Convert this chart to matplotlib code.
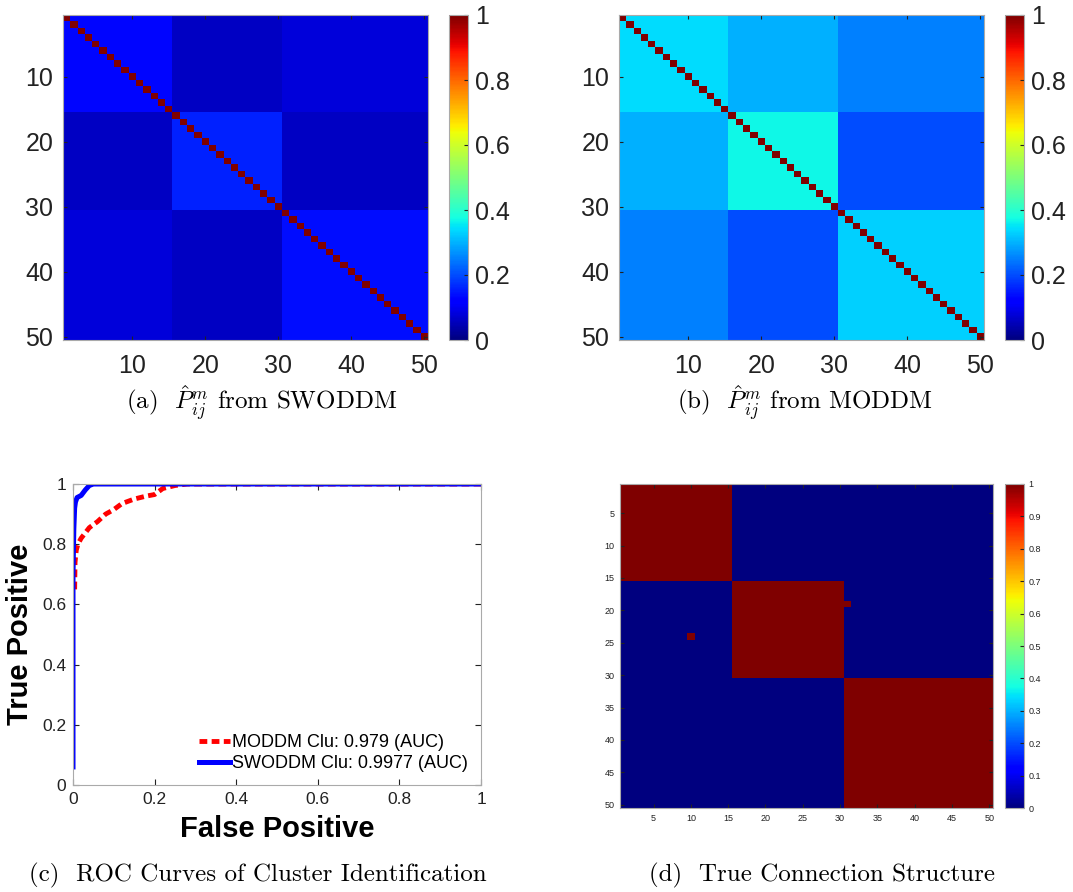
import numpy as np
import matplotlib
matplotlib.use("Agg")
import matplotlib.pyplot as plt

plt.rcParams["mathtext.fontset"] = "cm"

# ----------------------
# DATA
# ----------------------
n_nodes = 50
cluster_sizes = [15, 15, 20]

# block means of the estimated matrices (rows/cols = clusters)
swoddm_blocks = [[0.13, 0.06, 0.08],
                 [0.06, 0.16, 0.06],
                 [0.08, 0.06, 0.14]]
moddm_blocks = [[0.34, 0.30, 0.25],
                [0.30, 0.37, 0.20],
                [0.25, 0.20, 0.33]]

# true structure: extra connections (row, col), 1-based
extra_links = [(24, 10), (19, 31)]

# ROC curves
swoddm_fpr = [0.0, 0.0, 0.002, 0.004, 0.006, 0.01, 0.02, 0.03, 0.04, 0.05, 1.0]
swoddm_tpr = [0.06, 0.70, 0.85, 0.92, 0.94, 0.955, 0.962, 0.98, 0.995, 1.0, 1.0]
moddm_fpr = [0.004, 0.005, 0.008, 0.012, 0.02, 0.04, 0.06, 0.08, 0.10, 0.12, 0.15, 0.18, 0.20,
             0.22, 0.25, 0.28, 1.0]
moddm_tpr = [0.65, 0.74, 0.78, 0.80, 0.82, 0.855, 0.875, 0.90, 0.915, 0.935, 0.95, 0.96, 0.965,
             0.985, 0.995, 1.0, 1.0]
swoddm_auc = "0.9977"
moddm_auc = "0.979"


def block_matrix(blocks, sizes):
    rows = []
    for bi, si in enumerate(sizes):
        rows.append(np.hstack([np.full((si, sj), blocks[bi][bj]) for bj, sj in enumerate(sizes)]))
    m = np.vstack(rows)
    np.fill_diagonal(m, 1.0)
    return m


mat_a = block_matrix(swoddm_blocks, cluster_sizes)
mat_b = block_matrix(moddm_blocks, cluster_sizes)
mat_d = block_matrix([[1, 0, 0], [0, 1, 0], [0, 0, 1]], cluster_sizes)
for r, c in extra_links:
    mat_d[r - 1, c - 1] = 1.0

W, H = 1073, 892
fig = plt.figure(figsize=(W / 100, H / 100), dpi=100)


def px_axes(x0, y0, x1, y1):
    return fig.add_axes([x0 / W, 1 - y1 / H, (x1 - x0) / W, (y1 - y0) / H])


sans = "Liberation Sans"
ext = (0.5, n_nodes + 0.5, n_nodes + 0.5, 0.5)


def heat(ax, cax, m, ticks, cticks, fs, xpad, ypad, cpad):
    im = ax.imshow(m, cmap="jet", vmin=0, vmax=1, extent=ext, aspect="auto",
                   interpolation="nearest")
    ax.set_xticks(ticks)
    ax.set_yticks(ticks)
    ax.set_xticklabels([str(t) for t in ticks], family=sans)
    ax.set_yticklabels([str(t) for t in ticks], family=sans)
    ax.tick_params(direction="in", length=3, labelsize=fs, colors="#222222",
                   top=True, right=True)
    ax.tick_params(axis="x", pad=xpad)
    ax.tick_params(axis="y", pad=ypad)
    for s in ax.spines.values():
        s.set_color("#aaaaaa")
        s.set_linewidth(0.8)
    cb = fig.colorbar(im, cax=cax, ticks=cticks)
    cb.ax.tick_params(direction="in", length=3, labelsize=fs, colors="#222222", pad=cpad)
    cb.ax.set_yticklabels([("%g" % t) for t in cticks], family=sans)
    cb.outline.set_edgecolor("#aaaaaa")
    cb.outline.set_linewidth(0.8)


# (a)
ax_a = px_axes(63, 15, 428, 340)
cax_a = px_axes(449, 15, 468, 340)
heat(ax_a, cax_a, mat_a, [10, 20, 30, 40, 50], [0, 0.2, 0.4, 0.6, 0.8, 1], 18, 10, 7, 5)

# (b)
ax_b = px_axes(619, 15, 984, 340)
cax_b = px_axes(1005, 15, 1024, 340)
heat(ax_b, cax_b, mat_b, [10, 20, 30, 40, 50], [0, 0.2, 0.4, 0.6, 0.8, 1], 18, 10, 7, 5)

# (d)
ax_d = px_axes(620, 484, 993, 808)
cax_d = px_axes(1005, 484, 1024, 808)
heat(ax_d, cax_d, mat_d, list(range(5, 51, 5)), [round(0.1 * k, 1) for k in range(11)],
     6.5, 4, 4, 3)

# (c) ROC
ax_c = px_axes(73, 484, 481, 785)
ax_c.plot(moddm_fpr, moddm_tpr, color="red", linestyle="--", linewidth=3.5,
          dashes=(1.6, 0.9), label="MODDM Clu: %s (AUC)" % moddm_auc)
ax_c.plot(swoddm_fpr, swoddm_tpr, color="blue", linewidth=3.6,
          label="SWODDM Clu: %s (AUC)" % swoddm_auc)
ax_c.set_xlim(0, 1)
ax_c.set_ylim(0, 1)
cticks = [0, 0.2, 0.4, 0.6, 0.8, 1]
ax_c.set_xticks(cticks)
ax_c.set_yticks(cticks)
ax_c.set_xticklabels(["%g" % t for t in cticks], family=sans)
ax_c.set_yticklabels(["%g" % t for t in cticks], family=sans)
ax_c.tick_params(direction="in", length=4, labelsize=12.5, colors="#222222",
                 top=True, right=True, pad=5)
for s in ax_c.spines.values():
    s.set_color("#aaaaaa")
    s.set_linewidth(0.8)
ax_c.set_xlabel("False Positive", family=sans, fontweight="bold", fontsize=21, labelpad=6)
ax_c.set_ylabel("True Positive", family=sans, fontweight="bold", fontsize=21, labelpad=6)
leg = ax_c.legend(loc="lower right", frameon=False, prop={"family": sans, "size": 13},
                  handlelength=1.7, handletextpad=0.15, borderaxespad=0.3, labelspacing=0.25)

# captions
cap = dict(family="cmr10", fontsize=18, ha="center", va="center")
fig.text(262 / W, 1 - 403 / H, r"(a)  $\hat{P}^m_{ij}$ from SWODDM", **cap)
fig.text(805 / W, 1 - 403 / H, r"(b)  $\hat{P}^m_{ij}$ from MODDM", **cap)
fig.text(258 / W, 1 - 875 / H, "(c)  ROC Curves of Cluster Identification", **cap)
fig.text(822 / W, 1 - 875 / H, "(d)  True Connection Structure", **cap)

fig.savefig("out.png", dpi=100)
